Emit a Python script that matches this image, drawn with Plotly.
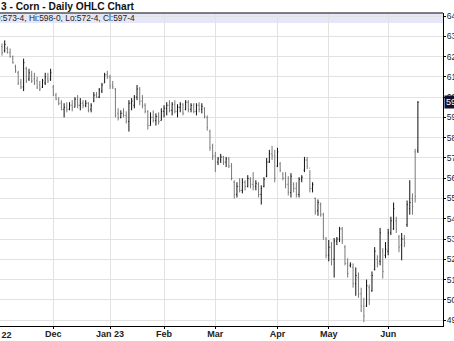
import pandas as pd
import plotly.graph_objects as go

# ---- categories: trading days (weekdays minus exchange holidays) ----
holidays = ["2022-11-24", "2022-12-26", "2023-01-02", "2023-01-16",
            "2023-02-20", "2023-04-07", "2023-05-29"]
dates = pd.bdate_range("2022-11-03", "2023-06-16", freq="C",
                       holidays=holidays).strftime("%Y-%m-%d").tolist()

# ---- OHLC values (cents/bu), month by month ----
open_nov = [625, 623, 624, 622, 620, 615, 612, 607, 605, 614, 609, 611, 609, 608, 606, 605, 607, 609, 609]
high_nov = [626.5, 628, 625, 624, 620.5, 616, 613, 609, 619, 615, 614, 613, 612, 610, 608, 609, 612, 612, 614]
low_nov = [620.5, 622, 621.5, 619.5, 616.5, 612, 606, 604, 603, 607, 608, 607, 606, 604, 603, 604.5, 606, 607, 608]
close_nov = [622, 626, 622, 620, 617, 613, 607, 605, 617, 608, 612, 608, 607, 605, 604, 608, 610, 608, 612]

open_dec = [605, 601, 599, 597, 594, 595, 594, 596, 595, 599, 596, 597, 596, 597, 594, 598, 601, 600, 603, 607, 611]
high_dec = [606, 602, 600, 598.5, 597, 597.5, 597.5, 598.5, 600, 601, 599.5, 598.5, 598.5, 597.5, 597, 602.5, 602.5, 604.5, 607, 612, 613]
low_dec = [600.5, 598.5, 596, 593.5, 590, 592.5, 593.5, 593, 595, 594.5, 593.5, 594.5, 595, 592.5, 592.5, 597.5, 599.5, 599.5, 602, 607, 609]
close_dec = [601, 599, 597, 594, 595, 594, 596, 595, 599, 596, 597, 596, 597, 593.5, 596, 601, 600, 603.5, 606, 611, 610]

open_jan = [610, 606, 604, 592, 590, 592, 591, 588, 597, 596, 600, 604, 598, 596, 593, 586, 590, 588.5, 590.5, 588.5]
high_jan = [611, 608, 604.5, 594.5, 593.5, 594.5, 593, 598.5, 599.5, 601, 606, 605, 601, 597, 593.5, 592.5, 593.5, 592, 592.5, 594.5]
low_jan = [604, 604, 590, 588.5, 589.5, 590, 587, 583, 593.5, 594.5, 598.5, 596, 594.5, 592, 584, 586, 587.5, 586, 586.5, 588.5]
close_jan = [605.5, 605, 591, 590, 592, 591, 588, 597, 598, 600, 604, 598, 596, 593, 586, 590, 588.5, 590.5, 588, 593]

open_feb = [593, 594.5, 596, 593.5, 596.5, 593, 595, 596.5, 594, 597.5, 594, 596, 593, 596, 594, 594.5, 590, 583, 576]
high_feb = [596, 597.5, 598.5, 597.5, 598.5, 596.5, 597.5, 597, 598.5, 598.5, 597, 597, 597, 597.5, 597, 595, 591, 584, 577]
low_feb = [590, 591, 592.5, 591, 592, 590, 592.5, 591, 593.5, 592.5, 592.5, 592, 591, 592.5, 592, 589.5, 583.5, 573.5, 569]
close_feb = [594.5, 596, 593.5, 596.5, 593, 595, 596.5, 592, 597.5, 594, 596, 593, 596, 594, 595.5, 590.5, 585, 575, 571]

open_mar = [571, 568, 569, 570.5, 568, 569.5, 566, 558, 552, 556, 554, 558, 556, 559.5, 557, 556, 557, 552, 556, 561, 568, 572, 571]
high_mar = [573, 570.5, 572, 571, 570.5, 570.5, 567.5, 559, 558, 560, 560, 559, 561.5, 560.5, 563, 559, 558, 556.5, 560.5, 570, 574, 576, 574]
low_mar = [563, 566.5, 567.5, 566.5, 565.5, 565, 559, 550, 550.5, 553, 552.5, 554, 555.5, 555, 554, 554, 550.5, 547, 555.5, 560.5, 567.5, 569, 558]
close_mar = [568, 569.5, 570.5, 568, 569.5, 566, 560, 552, 556, 554, 558, 556, 560, 557, 556, 557.5, 552, 555, 559.5, 568, 572, 571, 560]

open_apr = [566, 567, 562, 560, 557, 553, 557, 555, 552, 559.5, 564, 569, 565, 555, 550, 544, 547, 542, 530]
high_apr = [575, 568, 563, 563, 561, 562.5, 558, 558, 560.5, 561.5, 570.5, 570.5, 564, 558, 550.5, 549.5, 548, 543, 531]
low_apr = [565.5, 563, 559, 555, 551.5, 550.5, 553, 550.5, 550.5, 558, 563, 564.5, 553, 553, 542, 541.5, 541, 529.5, 520.5]
close_apr = [573, 564, 560, 557, 553, 561, 555, 552, 559.5, 560.5, 569, 566, 555, 557, 543.5, 548, 542, 531, 522]

open_may = [522, 526, 520, 529, 530, 535, 526, 518, 517, 516, 508, 511, 503, 497, 497, 506, 504.5, 515, 520, 519, 524, 522]
high_may = [529.5, 528.5, 530.5, 531, 536, 536, 527, 520.5, 518.5, 518, 516, 513.5, 506, 501, 510, 507.5, 514, 526, 522, 535.5, 525.5, 528.5]
low_may = [519, 517, 511, 527, 528.5, 527.5, 517, 511, 516, 506, 502, 501, 494, 489, 496.5, 497.5, 504, 514.5, 516, 517, 510.5, 520.5]
close_may = [526, 520, 529, 530, 535, 529, 518, 513, 517.5, 508, 512, 503, 497, 492, 507, 500, 512, 524, 518, 533, 514, 525]

open_jun = [524, 533, 535, 539, 531, 527, 530, 537, 545, 550, 573, 573.5]
high_jun = [535, 541, 548, 541, 532, 533, 532, 549, 559, 552.5, 574.5, 598]
low_jun = [522, 532, 534.5, 533, 523.5, 519.5, 526, 536, 542, 542, 548, 572.5]
close_jun = [533, 539, 545, 535, 526, 530, 528, 547, 548, 546, 551, 597.5]

opens = open_nov + open_dec + open_jan + open_feb + open_mar + open_apr + open_may + open_jun
highs = high_nov + high_dec + high_jan + high_feb + high_mar + high_apr + high_may + high_jun
lows = low_nov + low_dec + low_jan + low_feb + low_mar + low_apr + low_may + low_jun
closes = close_nov + close_dec + close_jan + close_feb + close_mar + close_apr + close_may + close_jun
assert len(dates) == len(opens) == len(highs) == len(lows) == len(closes)

# ---- axis ticks ----
month_tick_dates = ["2022-12-01", "2023-01-03", "2023-02-01", "2023-03-01",
                    "2023-04-03", "2023-05-01", "2023-06-01"]
month_tick_labels = ["Dec", "Jan 23", "Feb", "Mar", "Apr", "May", "Jun"]
first_month_label = "Nov 22"   # tick sits 2 sessions before the first visible bar
price_ticks = [490, 500, 510, 520, 530, 540, 550, 560, 570, 580, 590, 600, 610, 620, 630, 640]
price_tick_labels = [f"{v}-0" for v in price_ticks]

title_text = "3 - Corn - Daily OHLC Chart"
info_text = "O:573-4, Hi:598-0, Lo:572-4, Cl:597-4"
last_price_text = "597-4"
last_price = 597.5

FONT = "Liberation Sans, Arial, sans-serif"
W, H = 454, 341
ML, MR, MT, MB = 0, 11, 13, 15
PW, PH = W - ML - MR, H - MT - MB
X_RANGE = [-0.74, 163.3]

fig = go.Figure(go.Ohlc(
    x=dates, open=opens, high=highs, low=lows, close=closes,
    increasing=dict(line=dict(color="#111111", width=1)),
    decreasing=dict(line=dict(color="#7a7a7a", width=1)),
    tickwidth=0.3, hoverinfo="skip",
))

fig.update_layout(
    width=W, height=H, template="none",
    margin=dict(l=ML, r=MR, t=MT, b=MB, pad=0),
    paper_bgcolor="white", plot_bgcolor="white", showlegend=False,
    xaxis=dict(
        type="category", range=X_RANGE, rangeslider=dict(visible=False),
        tickmode="array", tickvals=month_tick_dates, ticktext=month_tick_labels,
        showgrid=True, gridcolor="#e2e2e2", gridwidth=1,
        showline=True, linecolor="#000000", linewidth=1,
        ticks="outside", ticklen=2, tickcolor="#000000",
        ticklabelstandoff=-3,
        tickfont=dict(family=FONT, size=9, color="#222222", weight="bold"),
        automargin=False, zeroline=False, fixedrange=True,
    ),
    yaxis=dict(
        side="right", range=[487.1, 641.5],
        tickmode="array", tickvals=price_ticks, ticktext=price_tick_labels,
        showgrid=True, gridcolor="#e2e2e2", gridwidth=1,
        showline=True, linecolor="#000000", linewidth=1,
        ticks="outside", ticklen=2, tickcolor="#000000",
        ticklabelstandoff=-1,
        tickfont=dict(family=FONT, size=8.5, color="#222222"),
        automargin=False, zeroline=False, fixedrange=True,
    ),
)

band_h = 10 / PH
fig.add_shape(type="rect", xref="paper", yref="paper", x0=0, x1=1,
              y0=1 - band_h, y1=1, fillcolor="#e6e6fa", line=dict(width=0),
              layer="below")
fig.add_shape(type="line", xref="paper", yref="paper", x0=0, x1=1, y0=1, y1=1,
              line=dict(color="#555555", width=1.5))

fig.add_annotation(text=f"<b>{title_text}</b>", xref="paper", yref="paper",
                   x=0, y=1, xanchor="left", yanchor="bottom", showarrow=False,
                   font=dict(family=FONT, size=10.2, color="#111111"),
                   borderpad=0, yshift=0)
fig.add_annotation(text=info_text, xref="paper", yref="paper",
                   x=-7 / PW, y=1 - band_h / 2, xanchor="left", yanchor="middle",
                   showarrow=False, font=dict(family=FONT, size=8.4, color="#222222"),
                   borderpad=0)
# first month tick lies just left of the visible window (2 sessions before Nov 3)
nov_px = (-2 - X_RANGE[0]) / (X_RANGE[1] - X_RANGE[0])
fig.add_annotation(text=f"<b>{first_month_label}</b>", xref="paper", yref="paper",
                   x=nov_px, y=0, xanchor="center", yanchor="top", yshift=-3,
                   showarrow=False, font=dict(family=FONT, size=9, color="#222222"),
                   borderpad=0)
fig.add_annotation(text=last_price_text, xref="paper", yref="y", x=1, y=last_price,
                   xanchor="left", yanchor="middle", xshift=1, showarrow=False,
                   bgcolor="#101030", font=dict(family=FONT, size=9, color="#ffffff"),
                   borderpad=1)

fig.write_html("out.html")
